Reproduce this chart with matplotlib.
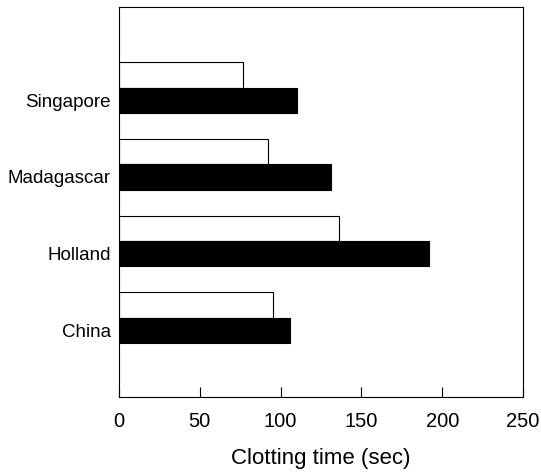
import matplotlib.pyplot as plt
import numpy as np

plt.rcParams['font.family'] = ['Liberation Sans', 'DejaVu Sans']

countries = ['China', 'Holland', 'Madagascar', 'Singapore']
open_bars = [95, 136, 92, 77]      # white bars
filled_bars = [106, 192, 131, 110]  # black bars

fig = plt.figure(figsize=(5.41, 4.74), dpi=100)
ax = fig.add_axes([0.22, 0.163, 0.747, 0.822])

y = np.arange(len(countries))
h = 0.33
ax.barh(y + h / 2, open_bars, height=h, color='white', edgecolor='black', linewidth=0.8)
ax.barh(y - h / 2, filled_bars, height=h, color='black', edgecolor='black', linewidth=0.8)

ax.set_xlim(0, 250)
ax.set_ylim(-1.03, 4.05)
ax.set_xticks([0, 50, 100, 150, 200, 250])
ax.tick_params(axis='x', direction='in', length=7, width=0.8, pad=11, labelsize=14.5)
ax.set_yticks(y - h / 2)
ax.set_yticklabels(countries)
ax.tick_params(axis='y', length=0, pad=6, labelsize=13.5)
for s in ax.spines.values():
    s.set_linewidth(0.8)

ax.set_xlabel('Clotting time (sec)', fontsize=16, labelpad=12)

fig.savefig('out.png', dpi=100)
